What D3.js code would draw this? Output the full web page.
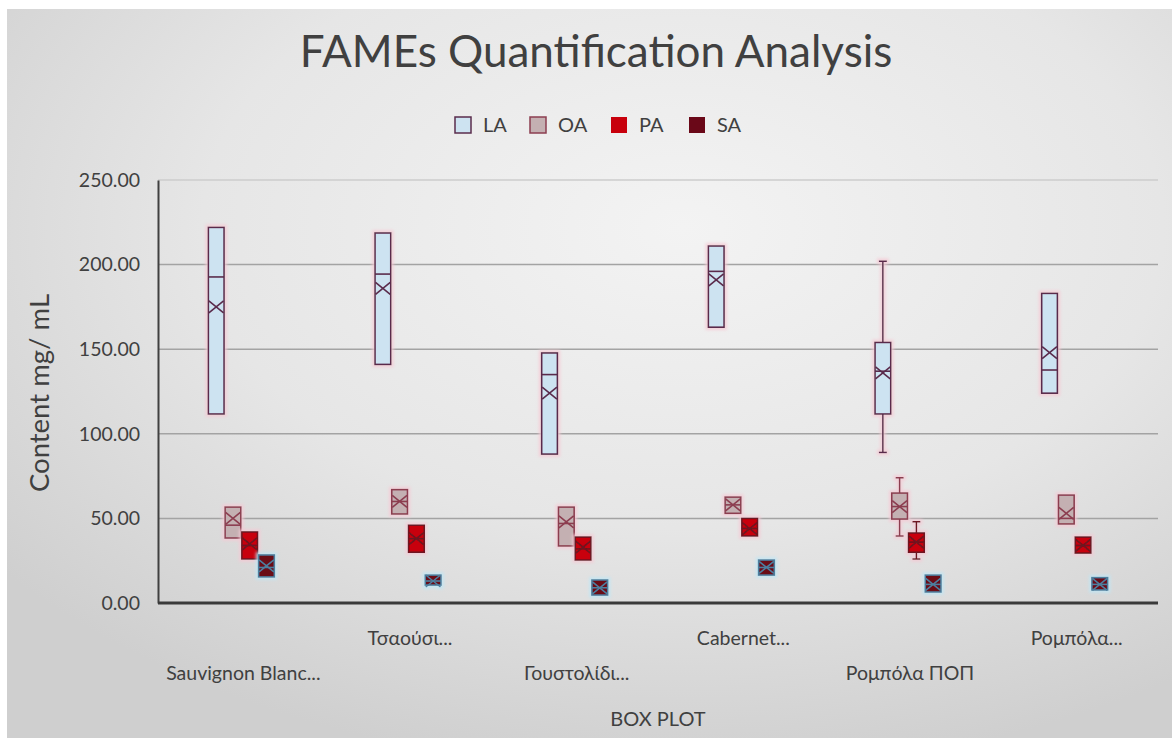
<!DOCTYPE html>
<html>
<head>
<meta charset="utf-8">
<script src="https://cdn.jsdelivr.net/npm/d3@7"></script>
<style>
  body { margin: 0; background: #fff; }
  text { font-family: Lato, "DejaVu Sans", sans-serif; fill: #404040; }
</style>
</head>
<body>
<div id="chart"></div>
<script>
// categories and series
var categories = ["Sauvignon Blanc...", "Τσαούσι...", "Γουστολίδι...", "Cabernet...", "Ρομπόλα ΠΟΠ", "Ρομπόλα..."];
var seriesNames = ["LA", "OA", "PA", "SA"];
var yTicks = [0, 50, 100, 150, 200, 250];

// one row per category: [min, q1, median, q3, max, mean]
var LA = [
    [111.7, 111.7, 192.7, 222.0, 222.0, 175],
    [141.0, 141.0, 194.4, 218.7, 218.7, 186],
    [88.0, 88.0, 135.0, 147.8, 147.8, 124],
    [163.0, 163.0, 196.0, 211.0, 211.0, 191],
    [89.0, 111.7, 137.0, 154.0, 202.0, 136],
    [124.0, 124.0, 137.7, 183.0, 183.0, 148]
];
var OA = [
    [38.4, 38.4, 46.0, 56.7, 56.7, 50],
    [52.6, 52.6, 60.0, 67.0, 67.0, 60],
    [33.7, 33.7, 47.0, 56.7, 56.7, 48],
    [53.0, 53.0, 58.0, 62.6, 62.6, 58],
    [39.6, 49.6, 57.0, 65.0, 74.0, 57],
    [46.7, 46.7, 50.0, 63.8, 63.8, 53]
];
var PA = [
    [26.0, 26.0, 34.0, 42.0, 42.0, 35],
    [30.0, 30.0, 38.0, 46.0, 46.0, 38],
    [25.4, 25.4, 32.0, 39.0, 39.0, 33],
    [39.6, 39.6, 44.0, 50.0, 50.0, 44],
    [26.0, 30.0, 36.0, 41.4, 48.0, 36],
    [29.5, 29.5, 34.0, 39.0, 39.0, 34]
];
var SA = [
    [15.4, 15.4, 21.0, 28.4, 28.4, 22],
    [10.6, 10.6, 13.0, 16.5, 16.5, 13],
    [4.7, 4.7, 9.0, 13.6, 13.6, 9],
    [16.5, 16.5, 21.0, 25.4, 25.4, 21],
    [6.5, 6.5, 11.0, 16.5, 16.5, 11],
    [7.7, 7.7, 11.0, 15.0, 15.0, 11]
];

var seriesData = [LA, OA, PA, SA];
var fills = ["#cde3f1", "#c4b0b2", "#c8000c", "#6a0818"];
var strokes = ["#5a2c4c", "#8c3e50", "#6e1420", "#4d7f9e"];
var glows = ["#f5c9d4", "#f5c9d4", "#f5c9d4", "#bfe6f5"];

var width = 1174, height = 740;
var margin = {top: 180, right: 16, bottom: 137, left: 158};

var svg = d3.select("#chart").append("svg")
    .attr("width", width)
    .attr("height", height);

var defs = svg.append("defs");
var grad = defs.append("radialGradient")
    .attr("id", "bg")
    .attr("cx", "58%").attr("cy", "30%").attr("r", "75%");
grad.append("stop").attr("offset", "0%").attr("stop-color", "#f3f3f3");
grad.append("stop").attr("offset", "55%").attr("stop-color", "#e6e6e6");
grad.append("stop").attr("offset", "100%").attr("stop-color", "#cfcfcf");

// soft glow around the boxes
glows.forEach(function(c, i){
    var f = defs.append("filter").attr("id", "glow" + i)
        .attr("x", "-60%").attr("y", "-60%").attr("width", "220%").attr("height", "220%");
    f.append("feMorphology").attr("in", "SourceAlpha").attr("operator", "dilate").attr("radius", 1.5).attr("result", "d");
    f.append("feGaussianBlur").attr("in", "d").attr("stdDeviation", 1.5).attr("result", "b");
    f.append("feFlood").attr("flood-color", c).attr("flood-opacity", 0.8);
    f.append("feComposite").attr("in2", "b").attr("operator", "in").attr("result", "g");
    var m = f.append("feMerge");
    m.append("feMergeNode").attr("in", "g");
    m.append("feMergeNode").attr("in", "SourceGraphic");
});

svg.append("rect")
    .attr("x", 7).attr("y", 9)
    .attr("width", width - 9).attr("height", height - 11)
    .attr("fill", "url(#bg)");

var x0 = d3.scaleBand()
    .domain(categories)
    .range([margin.left, width - margin.right]);

var x1 = d3.scaleBand()
    .domain(seriesNames)
    .range([x0.bandwidth() / 2 - 34, x0.bandwidth() / 2 + 34])
    .padding(0.06);

var y = d3.scaleLinear()
    .domain([0, 250])
    .range([height - margin.bottom, margin.top]);

// gridlines
svg.append("g")
    .selectAll("line")
    .data(yTicks.slice(1))
    .enter()
    .append("line")
    .attr("x1", margin.left)
    .attr("x2", width - margin.right)
    .attr("y1", function(d){ return y(d); })
    .attr("y2", function(d){ return y(d); })
    .attr("stroke", function(d){ return d === 250 ? "#cdcdcd" : "#a3a3a3"; })
    .attr("stroke-width", 1.5);

// y axis
var yAxis = d3.axisLeft(y)
    .tickValues(yTicks)
    .tickFormat(d3.format(".2f"))
    .tickSize(0)
    .tickPadding(18);

var gy = svg.append("g")
    .attr("transform", "translate(" + margin.left + ",0)")
    .call(yAxis);
gy.select(".domain").attr("stroke", "#404040").attr("stroke-width", 2);
gy.selectAll("text")
    .style("font-size", "19.5px")
    .style("fill", "#404040");

// boxes
var groups = svg.append("g")
    .selectAll("g")
    .data(categories)
    .enter()
    .append("g")
    .attr("transform", function(d){ return "translate(" + x0(d) + ",0)"; });

seriesNames.forEach(function(s, si){
    var data = seriesData[si];
    var bw = x1.bandwidth();
    var item = groups.append("g")
        .attr("filter", "url(#glow" + si + ")")
        .attr("stroke", strokes[si])
        .attr("stroke-width", 1.6)
        .attr("transform", function(d, ci){ return "translate(" + x1(s) + ",0)"; });

    // whiskers
    item.append("line")
        .attr("x1", bw / 2).attr("x2", bw / 2)
        .attr("y1", function(d, ci){ return y(data[ci][4]); })
        .attr("y2", function(d, ci){ return y(data[ci][3]); });
    item.append("line")
        .attr("x1", bw / 2).attr("x2", bw / 2)
        .attr("y1", function(d, ci){ return y(data[ci][1]); })
        .attr("y2", function(d, ci){ return y(data[ci][0]); });
    item.filter(function(d, ci){ return data[ci][4] > data[ci][3]; })
        .append("line")
        .attr("x1", bw / 2 - 4).attr("x2", bw / 2 + 4)
        .attr("y1", function(d){ return y(data[categories.indexOf(d)][4]); })
        .attr("y2", function(d){ return y(data[categories.indexOf(d)][4]); });
    item.filter(function(d, ci){ return data[ci][0] < data[ci][1]; })
        .append("line")
        .attr("x1", bw / 2 - 4).attr("x2", bw / 2 + 4)
        .attr("y1", function(d){ return y(data[categories.indexOf(d)][0]); })
        .attr("y2", function(d){ return y(data[categories.indexOf(d)][0]); });

    // box
    item.append("rect")
        .attr("x", 0)
        .attr("width", bw)
        .attr("y", function(d, ci){ return y(data[ci][3]); })
        .attr("height", function(d, ci){ return y(data[ci][1]) - y(data[ci][3]); })
        .attr("fill", fills[si]);

    // median
    item.append("line")
        .attr("x1", 0).attr("x2", bw)
        .attr("y1", function(d, ci){ return y(data[ci][2]); })
        .attr("y2", function(d, ci){ return y(data[ci][2]); });

    // mean marker (x)
    item.append("path")
        .attr("fill", "none")
        .attr("d", function(d, ci){
            var cy = y(data[ci][5]), h = 6, w = bw / 2 - 0.5;
            var cx = bw / 2;
            return "M" + (cx - w) + "," + (cy - h) + "L" + (cx + w) + "," + (cy + h) +
                   "M" + (cx - w) + "," + (cy + h) + "L" + (cx + w) + "," + (cy - h);
        });
});

// x axis line
svg.append("line")
    .attr("x1", margin.left)
    .attr("x2", width - margin.right)
    .attr("y1", y(0)).attr("y2", y(0))
    .attr("stroke", "#3a3a3a")
    .attr("stroke-width", 3);

// category labels, staggered in two rows
svg.append("g")
    .selectAll("text")
    .data(categories)
    .enter()
    .append("text")
    .attr("x", function(d){ return x0(d) + x0.bandwidth() / 2 + 2; })
    .attr("y", function(d, i){ return i % 2 === 1 ? y(0) + 42 : y(0) + 77; })
    .attr("text-anchor", "middle")
    .style("font-size", "19.5px")
    .text(function(d){ return d; });

// axis titles
svg.append("text")
    .attr("x", 658)
    .attr("y", 726)
    .attr("text-anchor", "middle")
    .style("font-size", "20px")
    .text("BOX PLOT");

svg.append("text")
    .attr("transform", "translate(49,393) rotate(-90)")
    .attr("text-anchor", "middle")
    .style("font-size", "27.5px")
    .text("Content mg/ mL");

// title
svg.append("text")
    .attr("x", 596)
    .attr("y", 67)
    .attr("text-anchor", "middle")
    .style("font-size", "44px")
    .text("FAMEs Quantification Analysis");

// legend
var legendX = [455, 530, 611, 689];
var legend = svg.append("g")
    .selectAll("g")
    .data(seriesNames)
    .enter()
    .append("g")
    .attr("transform", function(d, i){ return "translate(" + legendX[i] + ",117)"; });
legend.append("rect")
    .attr("width", 16).attr("height", 16)
    .attr("fill", function(d, i){ return fills[i]; })
    .attr("stroke", function(d, i){ return i < 2 ? strokes[i] : "none"; })
    .attr("stroke-width", 1.5);
legend.append("text")
    .attr("x", 28).attr("y", 15)
    .style("font-size", "20px")
    .text(function(d){ return d; });
</script>
</body>
</html>
